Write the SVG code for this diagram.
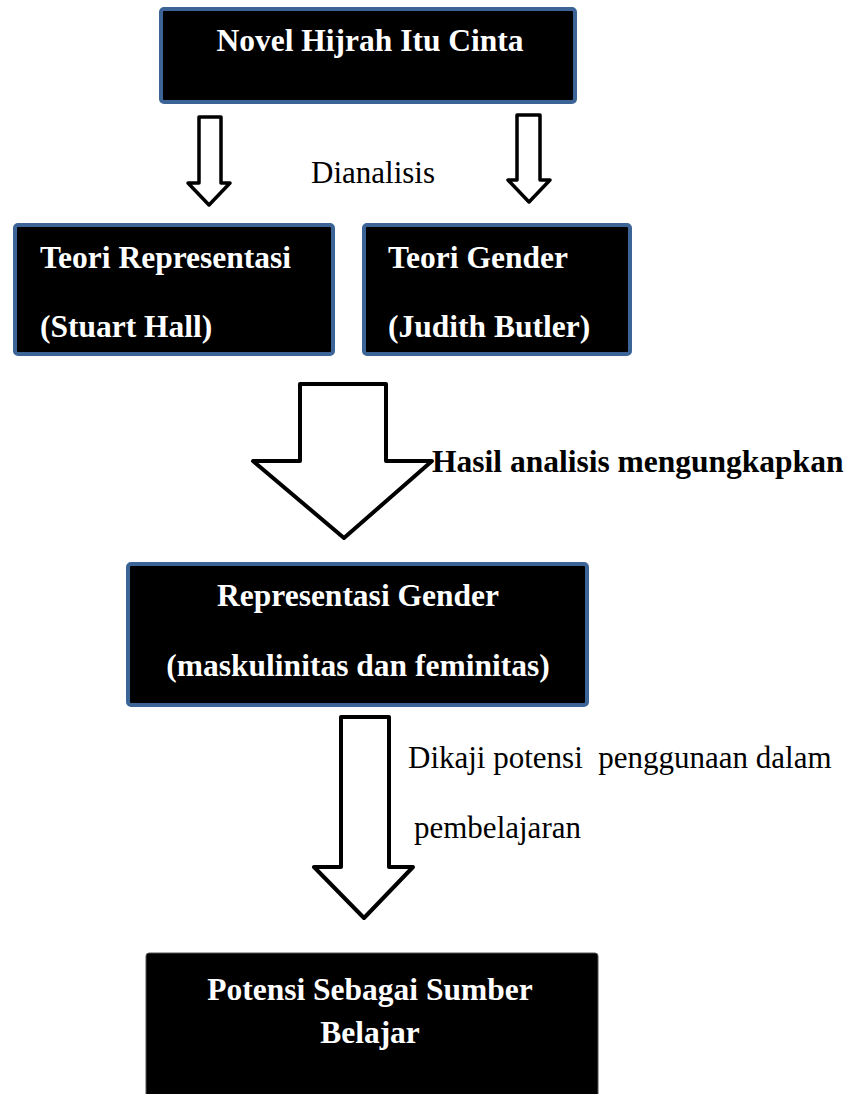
<svg xmlns="http://www.w3.org/2000/svg" width="849" height="1094" viewBox="0 0 849 1094">
<style>
.box{fill:#000;stroke:#3c6497;stroke-width:4}
.plain{fill:#000;stroke:#555;stroke-width:1}
.bt{font-family:"Liberation Serif","Times New Roman",serif;font-weight:bold;font-size:31.5px;fill:#fff}
.lt{font-family:"Liberation Serif","Times New Roman",serif;font-size:31px;fill:#000}
.lb{font-family:"Liberation Serif","Times New Roman",serif;font-weight:bold;font-size:31.5px;fill:#000}
.arr{fill:#fff;stroke:#000;stroke-width:4;stroke-linejoin:round}
.arrs{fill:#fff;stroke:#000;stroke-width:3.5;stroke-linejoin:round}
</style>
<rect width="849" height="1094" fill="#fff"/>
<g id="connectors">
<path class="arrs" d="M199,117 H221 V183 H230 L209,205 L188,183 H199 Z"/>
<path class="arrs" d="M517,115 H540 V180 H550 L529,202 L508,180 H517 Z"/>
<text class="lt" x="311" y="183">Dianalisis</text>
<path class="arr" d="M300,384 H386 V461 H432 L344,538 L253,461 H300 Z"/>
<text class="lb" x="432" y="472">Hasil analisis mengungkapkan</text>
<path class="arr" d="M341,717 H389 V867 H413 L364,918 L314,867 H341 Z"/>
<text class="lt" x="408" y="768">Dikaji potensi&#160; penggunaan dalam</text>
<text class="lt" x="414" y="838">pembelajaran</text>
</g>
<g id="novel">
<rect class="box" x="161" y="9" width="414" height="93" rx="3"/>
<text class="bt" x="370" y="51" text-anchor="middle">Novel Hijrah Itu Cinta</text>
</g>
<g id="teori-representasi">
<rect class="box" x="15" y="225" width="318" height="129" rx="3"/>
<text class="bt" x="40" y="268">Teori Representasi</text>
<text class="bt" x="40" y="337">(Stuart Hall)</text>
</g>
<g id="teori-gender">
<rect class="box" x="364" y="225" width="266" height="129" rx="3"/>
<text class="bt" x="388" y="268">Teori Gender</text>
<text class="bt" x="388" y="337">(Judith Butler)</text>
</g>
<g id="representasi-gender">
<rect class="box" x="128" y="564" width="459" height="141" rx="3"/>
<text class="bt" x="358" y="606" text-anchor="middle">Representasi Gender</text>
<text class="bt" x="358" y="676" text-anchor="middle">(maskulinitas dan feminitas)</text>
</g>
<g id="potensi">
<rect class="plain" x="146" y="953" width="452" height="150" rx="3"/>
<text class="bt" x="370" y="1000" text-anchor="middle">Potensi Sebagai Sumber</text>
<text class="bt" x="370" y="1043" text-anchor="middle">Belajar</text>
</g>
</svg>
